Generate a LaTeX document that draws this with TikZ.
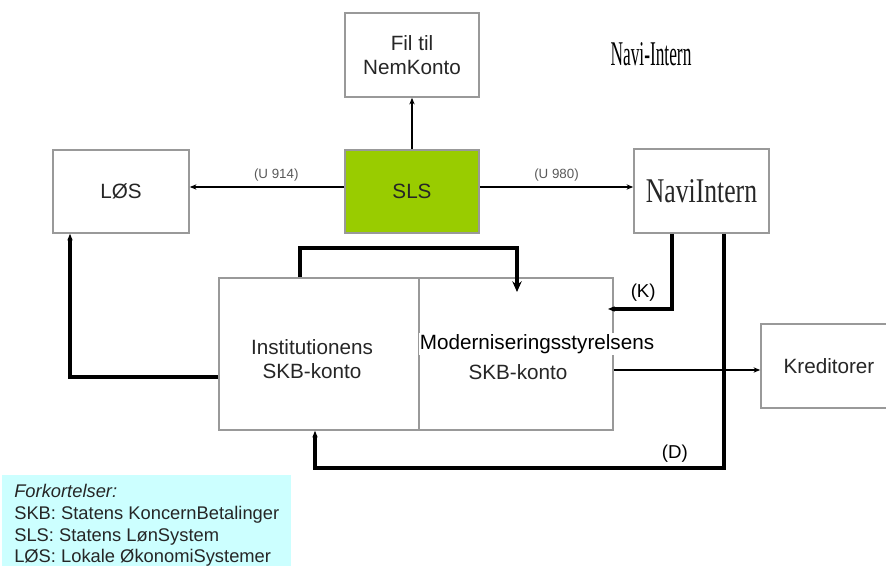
\documentclass[tikz,border=0pt]{standalone}
\usepackage{fontspec}
\setmainfont{Liberation Sans}
\newfontfamily\timesfont{Liberation Serif}
\usetikzlibrary{arrows.meta}
\definecolor{slsgreen}{HTML}{99CC00}
\definecolor{legendcyan}{HTML}{CCFFFF}
\definecolor{boxgray}{HTML}{999999}
\tikzset{
	box/.style={draw=boxgray, line width=1.2pt, fill=white, align=center, font=\fontsize{15.5}{18.5}\selectfont, text=black!85},
	conn/.style={line width=1.6pt, -{Stealth[length=5pt,width=4pt]}},
	thickconn/.style={line width=2.4pt},
	flowlabel/.style={font=\fontsize{10}{12}\selectfont, text=black!65},
	letterlabel/.style={font=\fontsize{14}{16}\selectfont}
}
\begin{document}
\begin{tikzpicture}[x=0.75pt, y=-0.75pt]
		\useasboundingbox (0,0) rectangle (886,566);
		\node[box, minimum width=100.5pt, minimum height=63pt] (fil) at (412,55) {Fil til\\NemKonto};
		\node[box, fill=slsgreen, minimum width=100.5pt, minimum height=62.25pt] (sls) at (412,191.5) {SLS};
		\node[box, minimum width=102pt, minimum height=62.25pt] (los) at (121,191.5) {LØS};
		\node[box, minimum width=101.25pt, minimum height=63pt, font=\timesfont\fontsize{26}{28}\selectfont] (navi) at (701.5,191) {\scalebox{0.74}[1]{NaviIntern}};
		\node[font=\timesfont\fontsize{26}{28}\selectfont] (title) at (651,54) {\scalebox{0.5}[1]{Navi-Intern}};
		\node[box, minimum width=150pt, minimum height=114pt] (inst) at (319,354) {};
		\node[font=\fontsize{15.5}{18.5}\selectfont, align=center, text=black!85] (insttxt) at (312,359) {Institutionens\\SKB-konto};
		\node[box, minimum width=145.5pt, minimum height=114pt] (mod) at (516,354) {};
		\node[fill=white, inner sep=1pt, font=\fontsize{15.5}{18.5}\selectfont] (modtop) at (537,344) {Moderniseringsstyrelsens};
		\node[font=\fontsize{15.5}{18.5}\selectfont, text=black!85] (modbot) at (518,372) {SKB-konto};
		\node[box, minimum width=102pt, minimum height=63pt] (kred) at (829,366) {Kreditorer};
		% legend
		\node[fill=legendcyan, anchor=north west, minimum width=216.75pt, minimum height=75pt, inner xsep=8pt, inner ysep=7pt, align=left, font=\fontsize{13.75}{16.2}\selectfont, text=black!85] (legend) at (2,475) {\textit{Forkortelser:}\\SKB: Statens KoncernBetalinger\\SLS: Statens LønSystem\\LØS: Lokale ØkonomiSystemer};
		% flows from SLS
		\path[conn] (sls) edge (fil);
		\path[conn] (sls.west |- 0,187) edge node[flowlabel, above, pos=0.44] {(U 914)} (los.east |- 0,187);
		\path[conn] (sls.east |- 0,187) edge node[flowlabel, above] {(U 980)} (navi.west |- 0,187);
		\coordinate (instup) at (300,248);
		\coordinate (modin) at (517,292);
		\draw[thickconn, -{Stealth[length=8pt,width=7pt]}] (inst.north -| instup) -- (instup) -| (modin);
		% K and D from NaviIntern
		\coordinate (kturn) at (672,309);
		\coordinate (kend) at (608,309);
		\draw[thickconn, -{Stealth[length=5pt,width=4pt]}] (navi.south -| kturn) -- (kturn) -- node[letterlabel, above, pos=0.45, yshift=1pt] {(K)} (kend);
		\coordinate (dturn) at (724,468);
		\coordinate (dleft) at (315,468);
		\draw[thickconn, -{Stealth[length=5pt,width=4pt]}] (navi.south -| dturn) -- (dturn) -- node[letterlabel, above, pos=0.12] {(D)} (dleft) -- (inst.south -| dleft);
		% back to LOS
		\coordinate (lturn) at (70,377);
		\draw[thickconn, -{Stealth[length=5pt,width=4pt]}] (inst.west |- lturn) -- (lturn) -- (los.south -| lturn);
		\path[conn] (mod.east |- 0,370) edge (kred.west |- 0,370);
	\end{tikzpicture}
\end{document}
